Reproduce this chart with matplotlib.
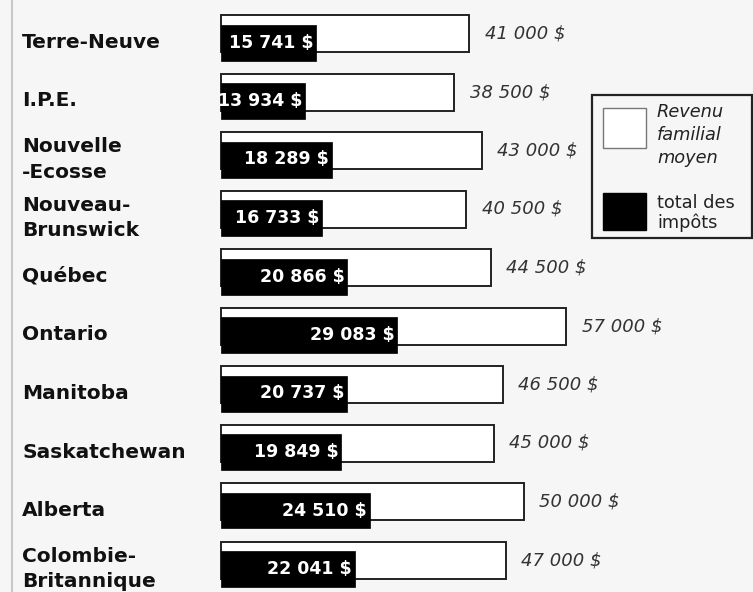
import matplotlib
matplotlib.use("Agg")
import matplotlib.pyplot as plt
from matplotlib.patches import Rectangle

provinces = ["Terre-Neuve", "I.P.E.", "Nouvelle\n-Ecosse", "Nouveau-\nBrunswick", "Québec",
             "Ontario", "Manitoba", "Saskatchewan", "Alberta", "Colombie-\nBritannique"]
revenu = [41000, 38500, 43000, 40500, 44500, 57000, 46500, 45000, 50000, 47000]
impots = [15741, 13934, 18289, 16733, 20866, 29083, 20737, 19849, 24510, 22041]
revenu_labels = ["41 000 $", "38 500 $", "43 000 $", "40 500 $", "44 500 $",
                 "57 000 $", "46 500 $", "45 000 $", "50 000 $", "47 000 $"]
impots_labels = ["15 741 $", "13 934 $", "18 289 $", "16 733 $", "20 866 $",
                 "29 083 $", "20 737 $", "19 849 $", "24 510 $", "22 041 $"]

W, H = 753, 592
bg = "#f6f6f6"
fig = plt.figure(figsize=(W / 100, H / 100), dpi=100, facecolor=bg)
ax = fig.add_axes([0, 0, 1, 1])
ax.set_facecolor(bg)
ax.axis("off")

# pixel layout: bars start at x=221, ~0.00606 px per dollar, rows 58.5 px apart
x0, s = 221, 0.00606
ax.set_xlim(-x0 / s, (W - x0) / s)
row = 58.5
ax.set_ylim((H - 33.5) / row, -33.5 / row)

hw = 37 / row    # white bar height
hb = 36 / row    # black bar height
off = 9 / row    # black bar shifted down

font = ["DejaVu Sans"]

for i, p in enumerate(provinces):
    ax.barh(i, revenu[i], height=hw, left=0, color="white", edgecolor="#222222", lw=1.4, zorder=2)
    ax.barh(i + off, impots[i], height=hb, left=0, color="black", edgecolor="black", lw=0.5, zorder=3)
    ax.annotate(impots_labels[i], (impots[i], i + off), xytext=(-2, 0), textcoords="offset points",
                ha="right", va="center", color="white", fontsize=12.5, fontweight="bold",
                family=font, zorder=4)
    ax.annotate(revenu_labels[i], (revenu[i], i), xytext=(11, 0), textcoords="offset points",
                ha="left", va="center", color="#333333", fontsize=13, style="italic",
                family=font)
    ax.text(22 / W, i + off, p, transform=ax.get_yaxis_transform(), ha="left", va="center",
            fontsize=14.5, fontweight="bold", family=font, color="#111111", linespacing=1.4)

# left margin rule
fig.add_artist(plt.Line2D([12 / W, 12 / W], [0, 1], color="#c8c8c8", lw=1.5))

# legend box
def fx(px):
    return px / W

def fy(py):
    return 1 - py / H

fig.add_artist(Rectangle((fx(592), fy(238)), fx(752) - fx(592), fy(95) - fy(238),
                         facecolor=bg, edgecolor="#222222", lw=1.6))
fig.add_artist(Rectangle((fx(603), fy(148)), fx(646) - fx(603), fy(108) - fy(148),
                         facecolor="white", edgecolor="#777777", lw=1.0))
fig.add_artist(Rectangle((fx(603), fy(230)), fx(646) - fx(603), fy(193) - fy(230),
                         facecolor="black", edgecolor="black", lw=1.0))
for txt, py in [("Revenu", 112), ("familial", 135), ("moyen", 158)]:
    fig.text(fx(657), fy(py), txt, ha="left", va="center", fontsize=12.8, style="italic",
             family=font, color="#222222")
for txt, py in [("total des", 203), ("impôts", 223)]:
    fig.text(fx(657), fy(py), txt, ha="left", va="center", fontsize=12.8,
             family=font, color="#222222")

fig.savefig("out.png", dpi=100, facecolor=bg)
